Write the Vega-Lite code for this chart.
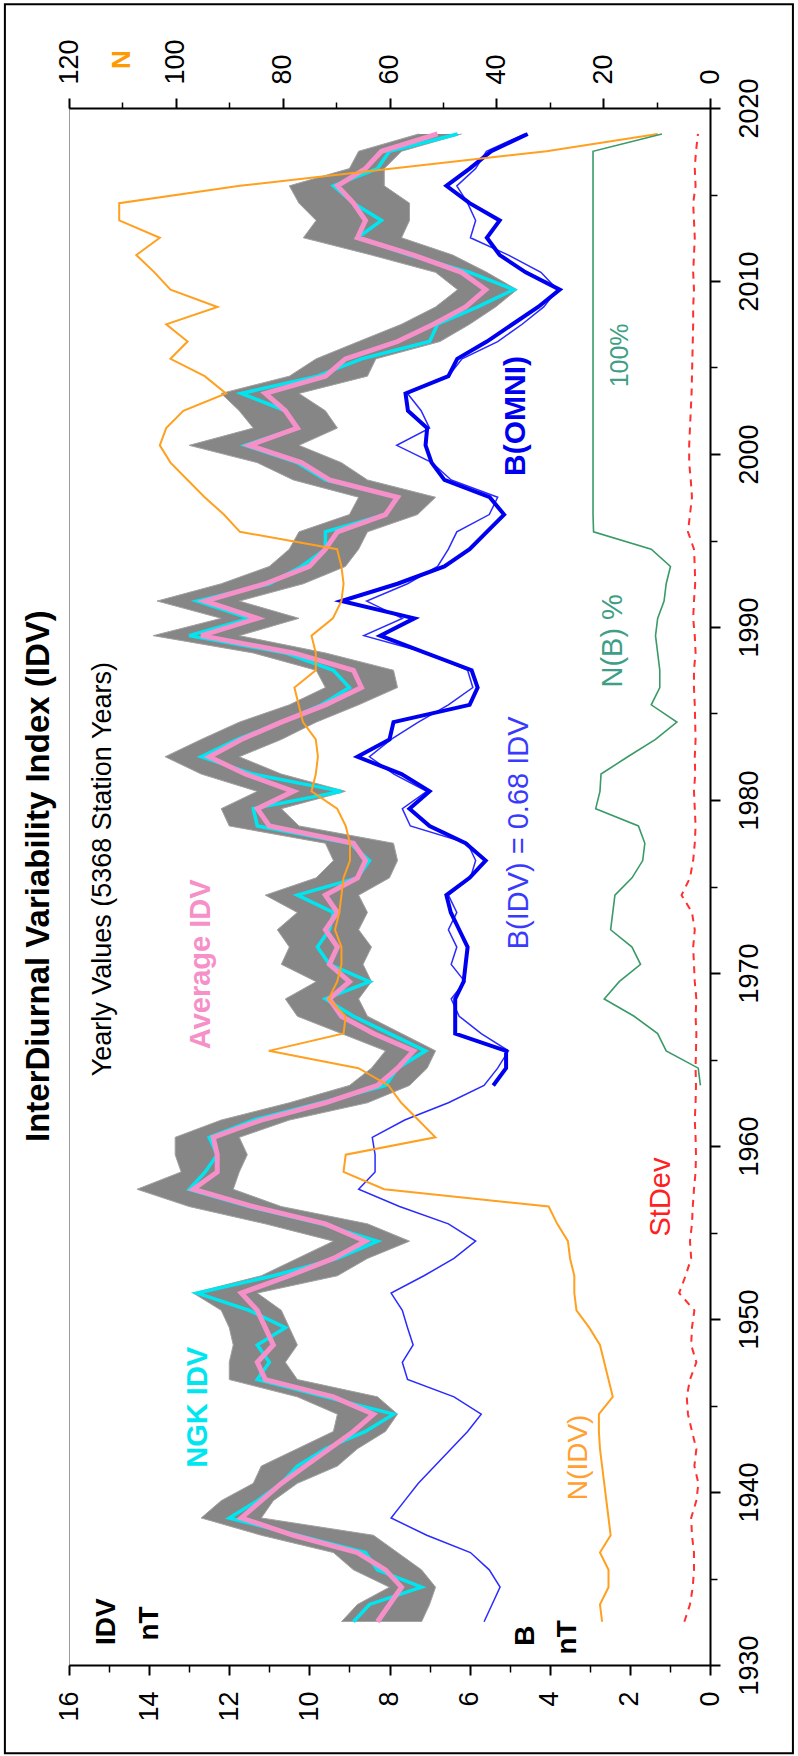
{
"$schema":"https://vega.github.io/schema/vega-lite/v6.json",
"width":641,"height":1557,"autosize":"none",
"padding":{"left":69,"top":108,"right":88,"bottom":91},
"background":"white",
"config":{"font":"Liberation Sans","view":{"stroke":"#9a9a9a","strokeWidth":1},
"axis":{"domainColor":"black","tickColor":"black","labelColor":"black","labelFont":"Liberation Sans","labelFontSize":27,"grid":false,"title":null,"labelFlush":false,"labelOverlap":false,"labelBound":false,"domainWidth":2,"tickWidth":2}},
"datasets":{
"idv":[
{"year":1932.5,"avg":8.3,"ngk":8.9,"lo":7.2,"hi":9.2,"bidv":5.64,"sd":0.64},
{"year":1933.5,"avg":8.0,"ngk":8.5,"lo":7.0,"hi":8.8,"bidv":5.44,"sd":0.50},
{"year":1934.5,"avg":7.7,"ngk":7.2,"lo":6.85,"hi":8.0,"bidv":5.24,"sd":0.43},
{"year":1935.5,"avg":8.1,"ngk":8.3,"lo":7.2,"hi":8.9,"bidv":5.51,"sd":0.40},
{"year":1936.5,"avg":8.8,"ngk":8.6,"lo":7.8,"hi":9.4,"bidv":5.98,"sd":0.40},
{"year":1937.5,"avg":10.4,"ngk":10.3,"lo":8.4,"hi":11.2,"bidv":7.07,"sd":0.45},
{"year":1938.5,"avg":11.7,"ngk":12.0,"lo":11.2,"hi":12.7,"bidv":7.96,"sd":0.47},
{"year":1939.5,"avg":11.2,"ngk":11.3,"lo":10.9,"hi":12.2,"bidv":7.62,"sd":0.34},
{"year":1940.5,"avg":10.7,"ngk":10.7,"lo":10.3,"hi":11.4,"bidv":7.28,"sd":0.29},
{"year":1941.5,"avg":10.1,"ngk":10.3,"lo":9.3,"hi":11.2,"bidv":6.87,"sd":0.39},
{"year":1942.5,"avg":9.5,"ngk":9.6,"lo":8.8,"hi":10.3,"bidv":6.46,"sd":0.34},
{"year":1943.5,"avg":8.9,"ngk":8.6,"lo":8.1,"hi":9.4,"bidv":6.05,"sd":0.45},
{"year":1944.5,"avg":8.4,"ngk":7.9,"lo":7.8,"hi":9.3,"bidv":5.71,"sd":0.55},
{"year":1945.5,"avg":9.4,"ngk":9.6,"lo":8.3,"hi":10.3,"bidv":6.39,"sd":0.58},
{"year":1946.5,"avg":11.1,"ngk":11.3,"lo":10.3,"hi":12.0,"bidv":7.55,"sd":0.50},
{"year":1947.5,"avg":11.3,"ngk":11.0,"lo":10.6,"hi":12.0,"bidv":7.68,"sd":0.34},
{"year":1948.5,"avg":10.9,"ngk":11.3,"lo":10.3,"hi":11.9,"bidv":7.41,"sd":0.47},
{"year":1949.5,"avg":11.1,"ngk":10.6,"lo":10.5,"hi":12.0,"bidv":7.55,"sd":0.45},
{"year":1950.5,"avg":11.3,"ngk":11.5,"lo":10.7,"hi":12.2,"bidv":7.68,"sd":0.39},
{"year":1951.5,"avg":11.7,"ngk":12.8,"lo":11.3,"hi":12.9,"bidv":7.96,"sd":0.77},
{"year":1952.5,"avg":10.5,"ngk":10.9,"lo":9.3,"hi":11.2,"bidv":7.14,"sd":0.61},
{"year":1953.5,"avg":9.4,"ngk":9.3,"lo":8.55,"hi":10.3,"bidv":6.39,"sd":0.47},
{"year":1954.5,"avg":8.6,"ngk":8.3,"lo":7.5,"hi":9.4,"bidv":5.85,"sd":0.50},
{"year":1955.5,"avg":9.6,"ngk":9.7,"lo":8.55,"hi":11.1,"bidv":6.53,"sd":0.45},
{"year":1956.5,"avg":11.4,"ngk":11.5,"lo":10.7,"hi":13.0,"bidv":7.75,"sd":0.43},
{"year":1957.5,"avg":12.9,"ngk":13.0,"lo":11.9,"hi":14.3,"bidv":8.77,"sd":0.40},
{"year":1958.5,"avg":12.3,"ngk":12.6,"lo":11.75,"hi":13.2,"bidv":8.36,"sd":0.36},
{"year":1959.5,"avg":12.3,"ngk":12.3,"lo":11.55,"hi":13.35,"bidv":8.36,"sd":0.35},
{"year":1960.5,"avg":12.4,"ngk":12.5,"lo":11.75,"hi":13.35,"bidv":8.43,"sd":0.36},
{"year":1961.5,"avg":11.2,"ngk":11.4,"lo":10.5,"hi":12.2,"bidv":7.62,"sd":0.38},
{"year":1962.5,"avg":9.6,"ngk":9.7,"lo":8.55,"hi":10.5,"bidv":6.53,"sd":0.36},
{"year":1963.5,"avg":8.3,"ngk":8.1,"lo":7.5,"hi":9.0,"bidv":5.64,"sd":0.35},
{"year":1964.5,"avg":7.8,"ngk":7.8,"lo":7.06,"hi":8.45,"bidv":5.30,"sd":0.36},
{"year":1965.5,"avg":7.4,"ngk":7.1,"lo":6.85,"hi":8.1,"bidv":5.03,"sd":0.35},
{"year":1966.5,"avg":8.4,"ngk":8.0,"lo":7.7,"hi":9.2,"bidv":5.71,"sd":0.34},
{"year":1967.5,"avg":9.2,"ngk":8.9,"lo":8.55,"hi":10.3,"bidv":6.26,"sd":0.36},
{"year":1968.5,"avg":9.5,"ngk":9.6,"lo":8.77,"hi":10.6,"bidv":6.46,"sd":0.34},
{"year":1969.5,"avg":9.0,"ngk":8.5,"lo":8.45,"hi":9.83,"bidv":6.12,"sd":0.38},
{"year":1970.5,"avg":9.5,"ngk":9.5,"lo":8.66,"hi":10.7,"bidv":6.46,"sd":0.40},
{"year":1971.5,"avg":9.3,"ngk":9.8,"lo":8.45,"hi":10.5,"bidv":6.32,"sd":0.42},
{"year":1972.5,"avg":9.6,"ngk":9.5,"lo":8.77,"hi":10.8,"bidv":6.53,"sd":0.38},
{"year":1973.5,"avg":9.3,"ngk":9.4,"lo":8.55,"hi":10.3,"bidv":6.32,"sd":0.45},
{"year":1974.5,"avg":9.6,"ngk":10.3,"lo":8.77,"hi":11.1,"bidv":6.53,"sd":0.71},
{"year":1975.5,"avg":8.8,"ngk":8.8,"lo":8.0,"hi":9.83,"bidv":5.98,"sd":0.50},
{"year":1976.5,"avg":8.6,"ngk":8.5,"lo":7.8,"hi":9.4,"bidv":5.85,"sd":0.42},
{"year":1977.5,"avg":8.9,"ngk":9.0,"lo":7.9,"hi":9.6,"bidv":6.05,"sd":0.38},
{"year":1978.5,"avg":11.0,"ngk":11.3,"lo":10.26,"hi":12.0,"bidv":7.48,"sd":0.36},
{"year":1979.5,"avg":11.3,"ngk":11.4,"lo":10.7,"hi":12.2,"bidv":7.68,"sd":0.38},
{"year":1980.5,"avg":10.4,"ngk":9.2,"lo":9.1,"hi":11.3,"bidv":7.07,"sd":0.40},
{"year":1981.5,"avg":11.6,"ngk":11.4,"lo":10.7,"hi":12.7,"bidv":7.89,"sd":0.37},
{"year":1982.5,"avg":12.5,"ngk":12.7,"lo":11.75,"hi":13.6,"bidv":8.50,"sd":0.38},
{"year":1983.5,"avg":11.7,"ngk":11.8,"lo":10.7,"hi":12.7,"bidv":7.96,"sd":0.36},
{"year":1984.5,"avg":10.7,"ngk":10.7,"lo":9.83,"hi":11.75,"bidv":7.28,"sd":0.37},
{"year":1985.5,"avg":9.6,"ngk":9.7,"lo":8.77,"hi":10.5,"bidv":6.53,"sd":0.38},
{"year":1986.5,"avg":8.7,"ngk":9.0,"lo":7.8,"hi":9.6,"bidv":5.92,"sd":0.40},
{"year":1987.5,"avg":8.9,"ngk":9.4,"lo":7.9,"hi":9.83,"bidv":6.05,"sd":0.40},
{"year":1988.5,"avg":10.4,"ngk":10.6,"lo":9.6,"hi":11.4,"bidv":7.07,"sd":0.36},
{"year":1989.5,"avg":12.7,"ngk":13.0,"lo":11.75,"hi":13.9,"bidv":8.64,"sd":0.38},
{"year":1990.5,"avg":11.3,"ngk":11.5,"lo":10.26,"hi":12.2,"bidv":7.68,"sd":0.42},
{"year":1991.5,"avg":12.6,"ngk":12.8,"lo":11.75,"hi":13.8,"bidv":8.57,"sd":0.40},
{"year":1992.5,"avg":11.1,"ngk":11.0,"lo":10.15,"hi":12.2,"bidv":7.55,"sd":0.37},
{"year":1993.5,"avg":10.0,"ngk":10.2,"lo":9.1,"hi":11.0,"bidv":6.80,"sd":0.38},
{"year":1994.5,"avg":9.6,"ngk":9.6,"lo":8.77,"hi":10.5,"bidv":6.53,"sd":0.40},
{"year":1995.5,"avg":9.3,"ngk":9.6,"lo":8.55,"hi":10.26,"bidv":6.32,"sd":0.55},
{"year":1996.5,"avg":8.1,"ngk":8.1,"lo":7.3,"hi":9.0,"bidv":5.51,"sd":0.50},
{"year":1997.5,"avg":7.8,"ngk":7.8,"lo":6.85,"hi":8.77,"bidv":5.30,"sd":0.45},
{"year":1998.5,"avg":9.5,"ngk":9.6,"lo":8.55,"hi":10.4,"bidv":6.46,"sd":0.48},
{"year":1999.5,"avg":10.2,"ngk":10.3,"lo":9.2,"hi":11.3,"bidv":6.94,"sd":0.52},
{"year":2000.5,"avg":11.5,"ngk":11.6,"lo":10.26,"hi":13.0,"bidv":7.82,"sd":0.52},
{"year":2001.5,"avg":10.3,"ngk":10.3,"lo":9.3,"hi":11.4,"bidv":7.00,"sd":0.50},
{"year":2002.5,"avg":10.6,"ngk":10.6,"lo":9.6,"hi":11.75,"bidv":7.21,"sd":0.48},
{"year":2003.5,"avg":11.1,"ngk":11.7,"lo":10.26,"hi":12.2,"bidv":7.55,"sd":0.46},
{"year":2004.5,"avg":9.6,"ngk":9.8,"lo":8.55,"hi":10.5,"bidv":6.53,"sd":0.45},
{"year":2005.5,"avg":9.1,"ngk":8.7,"lo":8.34,"hi":9.83,"bidv":6.19,"sd":0.44},
{"year":2006.5,"avg":7.8,"ngk":7.0,"lo":6.74,"hi":8.77,"bidv":5.30,"sd":0.43},
{"year":2007.5,"avg":6.9,"ngk":6.8,"lo":6.0,"hi":7.7,"bidv":4.69,"sd":0.42},
{"year":2008.5,"avg":6.1,"ngk":5.8,"lo":5.35,"hi":6.85,"bidv":4.15,"sd":0.42},
{"year":2009.5,"avg":5.6,"ngk":4.9,"lo":4.82,"hi":6.3,"bidv":3.81,"sd":0.40},
{"year":2010.5,"avg":6.2,"ngk":6.0,"lo":5.57,"hi":6.85,"bidv":4.22,"sd":0.42},
{"year":2011.5,"avg":7.4,"ngk":7.5,"lo":6.42,"hi":8.45,"bidv":5.03,"sd":0.40},
{"year":2012.5,"avg":8.8,"ngk":8.8,"lo":7.7,"hi":10.15,"bidv":5.98,"sd":0.38},
{"year":2013.5,"avg":8.6,"ngk":8.2,"lo":7.5,"hi":9.83,"bidv":5.85,"sd":0.40},
{"year":2014.5,"avg":8.9,"ngk":8.9,"lo":7.5,"hi":10.26,"bidv":6.05,"sd":0.42},
{"year":2015.5,"avg":9.3,"ngk":9.4,"lo":8.13,"hi":10.5,"bidv":6.32,"sd":0.36},
{"year":2016.5,"avg":8.6,"ngk":8.3,"lo":8.13,"hi":9.0,"bidv":5.85,"sd":0.38},
{"year":2017.5,"avg":8.2,"ngk":8.0,"lo":7.7,"hi":8.77,"bidv":5.58,"sd":0.35},
{"year":2018.5,"avg":6.8,"ngk":6.3,"lo":6.2,"hi":7.27,"bidv":4.62,"sd":0.30}
],
"omni":[
{"year":1963.5,"b":5.41},{"year":1964.5,"b":5.09},{"year":1965.5,"b":5.09},{"year":1966.5,"b":6.36},{"year":1967.5,"b":6.36},{"year":1968.5,"b":6.36},{"year":1969.5,"b":6.15},{"year":1970.5,"b":6.1},{"year":1971.5,"b":6.05},{"year":1972.5,"b":6.26},{"year":1973.5,"b":6.47},{"year":1974.5,"b":6.58},{"year":1975.5,"b":6.0},{"year":1976.5,"b":5.6},{"year":1977.5,"b":6.1},{"year":1978.5,"b":7.0},{"year":1979.5,"b":7.5},{"year":1980.5,"b":7.0},{"year":1981.5,"b":7.7},{"year":1982.5,"b":8.8},{"year":1983.5,"b":8.0},{"year":1984.5,"b":7.9},{"year":1985.5,"b":6.0},{"year":1986.5,"b":5.8},{"year":1987.5,"b":5.95},{"year":1988.5,"b":7.1},{"year":1989.5,"b":8.23},{"year":1990.5,"b":7.38},{"year":1991.5,"b":9.2},{"year":1992.5,"b":7.8},{"year":1993.5,"b":6.63},{"year":1994.5,"b":6.0},{"year":1995.5,"b":5.57},{"year":1996.5,"b":5.14},{"year":1997.5,"b":5.5},{"year":1998.5,"b":6.63},{"year":1999.5,"b":6.95},{"year":2000.5,"b":7.1},{"year":2001.5,"b":7.06},{"year":2002.5,"b":7.54},{"year":2003.5,"b":7.6},{"year":2004.5,"b":6.53},{"year":2005.5,"b":6.31},{"year":2006.5,"b":5.57},{"year":2007.5,"b":4.93},{"year":2008.5,"b":4.29},{"year":2009.5,"b":3.75},{"year":2010.5,"b":4.6},{"year":2011.5,"b":5.25},{"year":2012.5,"b":5.57},{"year":2013.5,"b":5.25},{"year":2014.5,"b":6.0},{"year":2015.5,"b":6.58},{"year":2016.5,"b":6.0},{"year":2017.5,"b":5.46},{"year":2018.5,"b":4.55}
],
"nidv":[
{"year":1932.5,"n":20.2},{"year":1933.5,"n":20.6},{"year":1934.5,"n":19.0},{"year":1935.5,"n":19.0},{"year":1936.5,"n":20.6},{"year":1937.5,"n":18.6},{"year":1938.5,"n":19.0},{"year":1939.5,"n":19.4},{"year":1940.5,"n":19.8},{"year":1941.5,"n":20.2},{"year":1942.5,"n":20.6},{"year":1943.5,"n":20.8},{"year":1944.5,"n":20.8},{"year":1945.5,"n":18.2},{"year":1946.5,"n":19.0},{"year":1947.5,"n":19.8},{"year":1948.5,"n":20.6},{"year":1949.5,"n":22.6},{"year":1950.5,"n":25.0},{"year":1951.5,"n":25.4},{"year":1952.5,"n":25.4},{"year":1953.5,"n":26.2},{"year":1954.5,"n":26.6},{"year":1955.5,"n":28.6},{"year":1956.5,"n":30.2},{"year":1957.5,"n":61.0},{"year":1958.5,"n":68.6},{"year":1959.5,"n":68.2},{"year":1960.5,"n":51.4},{"year":1961.5,"n":54.6},{"year":1962.5,"n":57.8},{"year":1963.5,"n":60.2},{"year":1964.5,"n":65.8},{"year":1965.5,"n":82.6},{"year":1966.5,"n":68.6},{"year":1967.5,"n":68.2},{"year":1968.5,"n":71.4},{"year":1969.5,"n":69.8},{"year":1970.5,"n":69.0},{"year":1971.5,"n":69.0},{"year":1972.5,"n":70.2},{"year":1973.5,"n":69.4},{"year":1974.5,"n":69.0},{"year":1975.5,"n":68.6},{"year":1976.5,"n":67.4},{"year":1977.5,"n":67.4},{"year":1978.5,"n":68.2},{"year":1979.5,"n":69.8},{"year":1980.5,"n":74.6},{"year":1981.5,"n":73.8},{"year":1982.5,"n":73.4},{"year":1983.5,"n":73.8},{"year":1984.5,"n":76.2},{"year":1985.5,"n":77.0},{"year":1986.5,"n":77.8},{"year":1987.5,"n":73.8},{"year":1988.5,"n":73.8},{"year":1989.5,"n":74.6},{"year":1990.5,"n":70.6},{"year":1991.5,"n":69.0},{"year":1992.5,"n":68.6},{"year":1993.5,"n":69.0},{"year":1994.5,"n":69.8},{"year":1995.5,"n":88.0},{"year":1996.5,"n":91.0},{"year":1997.5,"n":94.6},{"year":1998.5,"n":97.8},{"year":1999.5,"n":101.0},{"year":2000.5,"n":103.0},{"year":2001.5,"n":101.8},{"year":2002.5,"n":98.6},{"year":2003.5,"n":90.6},{"year":2004.5,"n":94.6},{"year":2005.5,"n":101.0},{"year":2006.5,"n":97.8},{"year":2007.5,"n":101.8},{"year":2008.5,"n":92.2},{"year":2009.5,"n":101.0},{"year":2010.5,"n":104.0},{"year":2011.5,"n":107.4},{"year":2012.5,"n":103.0},{"year":2013.5,"n":110.6},{"year":2014.5,"n":110.6},{"year":2015.5,"n":88.0},{"year":2016.5,"n":59.4},{"year":2017.5,"n":30.6},{"year":2018.5,"n":9.8}
],
"nb":[
{"year":1963.5,"p":1.8},{"year":1964.5,"p":2.2},{"year":1965.5,"p":8.2},{"year":1966.5,"p":9.8},{"year":1967.5,"p":14.2},{"year":1968.5,"p":19.8},{"year":1969.5,"p":17.0},{"year":1970.5,"p":13.0},{"year":1971.5,"p":14.6},{"year":1972.5,"p":18.6},{"year":1973.5,"p":18.2},{"year":1974.5,"p":17.8},{"year":1975.5,"p":14.6},{"year":1976.5,"p":12.6},{"year":1977.5,"p":12.2},{"year":1978.5,"p":13.4},{"year":1979.5,"p":21.4},{"year":1980.5,"p":20.6},{"year":1981.5,"p":20.4},{"year":1982.5,"p":15.4},{"year":1983.5,"p":10.2},{"year":1984.5,"p":6.2},{"year":1985.5,"p":11.0},{"year":1986.5,"p":9.4},{"year":1987.5,"p":9.4},{"year":1988.5,"p":9.8},{"year":1989.5,"p":10.2},{"year":1990.5,"p":9.8},{"year":1991.5,"p":8.6},{"year":1992.5,"p":8.2},{"year":1993.5,"p":7.4},{"year":1994.5,"p":11.0},{"year":1995.5,"p":21.8},{"year":1996.5,"p":21.9},{"year":1997.5,"p":21.9},{"year":1998.5,"p":21.9},{"year":1999.5,"p":21.9},{"year":2000.5,"p":21.9},{"year":2001.5,"p":21.9},{"year":2002.5,"p":21.9},{"year":2003.5,"p":21.9},{"year":2004.5,"p":21.9},{"year":2005.5,"p":21.9},{"year":2006.5,"p":21.9},{"year":2007.5,"p":21.9},{"year":2008.5,"p":21.9},{"year":2009.5,"p":21.9},{"year":2010.5,"p":21.9},{"year":2011.5,"p":21.9},{"year":2012.5,"p":21.9},{"year":2013.5,"p":21.9},{"year":2014.5,"p":21.9},{"year":2015.5,"p":21.9},{"year":2016.5,"p":21.9},{"year":2017.5,"p":21.9},{"year":2018.5,"p":9.0}
]
},
"layer":[
{
"resolve":{"axis":{"x":"independent","y":"independent"}},
"layer":[
{"data":{"values":[{}]},"mark":{"type":"rect","filled":false,"color":"black","strokeWidth":2},
 "encoding":{"x":{"datum":17.6,"type":"quantitative","scale":{"domain":[0,16],"reverse":true,"nice":false,"zero":false},"axis":null},"x2":{"datum":-2.07},
 "y":{"datum":2026.0,"type":"quantitative","scale":{"domain":[1930,2020],"nice":false,"zero":false},"axis":null},"y2":{"datum":1924.9}}},
{"data":{"name":"idv"},"mark":{"type":"area","orient":"horizontal","color":"#7f7f7f","opacity":0.95},
 "encoding":{"x":{"field":"lo","type":"quantitative","scale":{"domain":[0,16],"reverse":true,"nice":false,"zero":false},
   "axis":{"orient":"bottom","values":[0,2,4,6,8,10,12,14,16],"labelAngle":270,"labelAlign":"right","labelBaseline":"middle","tickSize":10,"labelPadding":16}},
  "x2":{"field":"hi"},
  "y":{"field":"year","type":"quantitative","scale":{"domain":[1930,2020],"nice":false,"zero":false},
   "axis":{"orient":"right","values":[1930,1940,1950,1960,1970,1980,1990,2000,2010,2020],"format":"d","labelAngle":270,"labelAlign":"center","labelBaseline":"top","tickSize":10,"labelPadding":16}}}},
{"data":{"name":"idv"},"mark":{"type":"line","color":"#a0a0a0","strokeWidth":1},
 "encoding":{"x":{"field":"lo","type":"quantitative","scale":{"domain":[0,16],"reverse":true,"nice":false,"zero":false},"axis":null},
  "y":{"field":"year","type":"quantitative","scale":{"domain":[1930,2020],"nice":false,"zero":false},"axis":null},"order":{"field":"year"}}},
{"data":{"name":"idv"},"mark":{"type":"line","color":"#a0a0a0","strokeWidth":1},
 "encoding":{"x":{"field":"hi","type":"quantitative","scale":{"domain":[0,16],"reverse":true,"nice":false,"zero":false},"axis":null},
  "y":{"field":"year","type":"quantitative","scale":{"domain":[1930,2020],"nice":false,"zero":false},"axis":null},"order":{"field":"year"}}},
{"data":{"name":"idv"},"mark":{"type":"line","color":"#00e6f0","strokeWidth":3.5},
 "encoding":{"x":{"field":"ngk","type":"quantitative","scale":{"domain":[0,16],"reverse":true,"nice":false,"zero":false},"axis":null},
  "y":{"field":"year","type":"quantitative","scale":{"domain":[1930,2020],"nice":false,"zero":false},"axis":null},"order":{"field":"year"}}},
{"data":{"name":"idv"},"mark":{"type":"line","color":"#f590c8","strokeWidth":5},
 "encoding":{"x":{"field":"avg","type":"quantitative","scale":{"domain":[0,16],"reverse":true,"nice":false,"zero":false},
   "axis":{"orient":"bottom","values":[1,3,5,7,9,11,13,15],"labels":false,"domain":false,"tickSize":7,"tickWidth":1.5}},
  "y":{"field":"year","type":"quantitative","scale":{"domain":[1930,2020],"nice":false,"zero":false},
   "axis":{"orient":"right","values":[1935,1945,1955,1965,1975,1985,1995,2005,2015],"labels":false,"domain":false,"tickSize":7,"tickWidth":1.5}},"order":{"field":"year"}}},
{"data":{"name":"idv"},"mark":{"type":"line","color":"#2a2aff","strokeWidth":1.5},
 "encoding":{"x":{"field":"bidv","type":"quantitative","scale":{"domain":[0,16],"reverse":true,"nice":false,"zero":false},"axis":null},
  "y":{"field":"year","type":"quantitative","scale":{"domain":[1930,2020],"nice":false,"zero":false},"axis":null},"order":{"field":"year"}}},
{"data":{"name":"omni"},"mark":{"type":"line","color":"#0000f0","strokeWidth":4},
 "encoding":{"x":{"field":"b","type":"quantitative","scale":{"domain":[0,16],"reverse":true,"nice":false,"zero":false},"axis":null},
  "y":{"field":"year","type":"quantitative","scale":{"domain":[1930,2020],"nice":false,"zero":false},"axis":null},"order":{"field":"year"}}},
{"data":{"name":"idv"},"mark":{"type":"line","color":"#ff3030","strokeWidth":2,"strokeDash":[7,6]},
 "encoding":{"x":{"field":"sd","type":"quantitative","scale":{"domain":[0,16],"reverse":true,"nice":false,"zero":false},"axis":null},
  "y":{"field":"year","type":"quantitative","scale":{"domain":[1930,2020],"nice":false,"zero":false},"axis":null},"order":{"field":"year"}}},
{"data":{"values":[{}]},"mark":{"type":"text","text":"InterDiurnal Variability Index (IDV)","angle":270,"fontSize":33,"fontWeight":"bold","color":"black","align":"center","baseline":"middle"},
 "encoding":{"x":{"datum":16.75,"type":"quantitative","scale":{"domain":[0,16],"reverse":true,"nice":false,"zero":false},"axis":null},"y":{"datum":1975.6,"type":"quantitative","scale":{"domain":[1930,2020],"nice":false,"zero":false},"axis":null}}},
{"data":{"values":[{}]},"mark":{"type":"text","text":"Yearly Values (5368 Station Years)","angle":270,"fontSize":27,"color":"black","align":"center","baseline":"middle"},
 "encoding":{"x":{"datum":15.15,"type":"quantitative","scale":{"domain":[0,16],"reverse":true,"nice":false,"zero":false},"axis":null},"y":{"datum":1976,"type":"quantitative","scale":{"domain":[1930,2020],"nice":false,"zero":false},"axis":null}}},
{"data":{"values":[{}]},"mark":{"type":"text","text":"Average IDV","angle":270,"fontSize":29,"fontWeight":"bold","color":"#f590c8","align":"center","baseline":"middle"},
 "encoding":{"x":{"datum":12.7,"type":"quantitative","scale":{"domain":[0,16],"reverse":true,"nice":false,"zero":false},"axis":null},"y":{"datum":1970.5,"type":"quantitative","scale":{"domain":[1930,2020],"nice":false,"zero":false},"axis":null}}},
{"data":{"values":[{}]},"mark":{"type":"text","text":"NGK IDV","angle":270,"fontSize":29,"fontWeight":"bold","color":"#00e6f0","align":"center","baseline":"middle"},
 "encoding":{"x":{"datum":12.78,"type":"quantitative","scale":{"domain":[0,16],"reverse":true,"nice":false,"zero":false},"axis":null},"y":{"datum":1944.9,"type":"quantitative","scale":{"domain":[1930,2020],"nice":false,"zero":false},"axis":null}}},
{"data":{"values":[{}]},"mark":{"type":"text","text":"N(IDV)","angle":270,"fontSize":28,"color":"#ffa030","align":"center","baseline":"middle"},
 "encoding":{"x":{"datum":3.27,"type":"quantitative","scale":{"domain":[0,16],"reverse":true,"nice":false,"zero":false},"axis":null},"y":{"datum":1942.0,"type":"quantitative","scale":{"domain":[1930,2020],"nice":false,"zero":false},"axis":null}}},
{"data":{"values":[{}]},"mark":{"type":"text","text":"B(IDV) = 0.68 IDV","angle":270,"fontSize":29,"color":"#3a3aff","align":"center","baseline":"middle"},
 "encoding":{"x":{"datum":4.77,"type":"quantitative","scale":{"domain":[0,16],"reverse":true,"nice":false,"zero":false},"axis":null},"y":{"datum":1978.1,"type":"quantitative","scale":{"domain":[1930,2020],"nice":false,"zero":false},"axis":null}}},
{"data":{"values":[{}]},"mark":{"type":"text","text":"B(OMNI)","angle":270,"fontSize":30,"fontWeight":"bold","color":"#0000f0","align":"center","baseline":"middle"},
 "encoding":{"x":{"datum":4.84,"type":"quantitative","scale":{"domain":[0,16],"reverse":true,"nice":false,"zero":false},"axis":null},"y":{"datum":2002.2,"type":"quantitative","scale":{"domain":[1930,2020],"nice":false,"zero":false},"axis":null}}},
{"data":{"values":[{}]},"mark":{"type":"text","text":"N(B) %","angle":270,"fontSize":29,"color":"#3f9f86","align":"center","baseline":"middle"},
 "encoding":{"x":{"datum":2.42,"type":"quantitative","scale":{"domain":[0,16],"reverse":true,"nice":false,"zero":false},"axis":null},"y":{"datum":1989.2,"type":"quantitative","scale":{"domain":[1930,2020],"nice":false,"zero":false},"axis":null}}},
{"data":{"values":[{}]},"mark":{"type":"text","text":"100%","angle":270,"fontSize":25,"color":"#3f9f86","align":"center","baseline":"middle"},
 "encoding":{"x":{"datum":2.25,"type":"quantitative","scale":{"domain":[0,16],"reverse":true,"nice":false,"zero":false},"axis":null},"y":{"datum":2005.7,"type":"quantitative","scale":{"domain":[1930,2020],"nice":false,"zero":false},"axis":null}}},
{"data":{"values":[{}]},"mark":{"type":"text","text":"StDev","angle":270,"fontSize":29,"color":"#ff2020","align":"center","baseline":"middle"},
 "encoding":{"x":{"datum":1.22,"type":"quantitative","scale":{"domain":[0,16],"reverse":true,"nice":false,"zero":false},"axis":null},"y":{"datum":1957.05,"type":"quantitative","scale":{"domain":[1930,2020],"nice":false,"zero":false},"axis":null}}},
{"data":{"values":[{}]},"mark":{"type":"text","text":"IDV","angle":270,"fontSize":28,"fontWeight":"bold","color":"black","align":"center","baseline":"middle"},
 "encoding":{"x":{"datum":15.05,"type":"quantitative","scale":{"domain":[0,16],"reverse":true,"nice":false,"zero":false},"axis":null},"y":{"datum":1932.5,"type":"quantitative","scale":{"domain":[1930,2020],"nice":false,"zero":false},"axis":null}}},
{"data":{"values":[{}]},"mark":{"type":"text","text":"nT","angle":270,"fontSize":28,"fontWeight":"bold","color":"black","align":"center","baseline":"middle"},
 "encoding":{"x":{"datum":13.98,"type":"quantitative","scale":{"domain":[0,16],"reverse":true,"nice":false,"zero":false},"axis":null},"y":{"datum":1932.4,"type":"quantitative","scale":{"domain":[1930,2020],"nice":false,"zero":false},"axis":null}}},
{"data":{"values":[{}]},"mark":{"type":"text","text":"B","angle":270,"fontSize":28,"fontWeight":"bold","color":"black","align":"center","baseline":"middle"},
 "encoding":{"x":{"datum":4.59,"type":"quantitative","scale":{"domain":[0,16],"reverse":true,"nice":false,"zero":false},"axis":null},"y":{"datum":1931.7,"type":"quantitative","scale":{"domain":[1930,2020],"nice":false,"zero":false},"axis":null}}},
{"data":{"values":[{}]},"mark":{"type":"text","text":"nT","angle":270,"fontSize":28,"fontWeight":"bold","color":"black","align":"center","baseline":"middle"},
 "encoding":{"x":{"datum":3.54,"type":"quantitative","scale":{"domain":[0,16],"reverse":true,"nice":false,"zero":false},"axis":null},"y":{"datum":1931.6,"type":"quantitative","scale":{"domain":[1930,2020],"nice":false,"zero":false},"axis":null}}}
]
},
{
"resolve":{"axis":{"x":"independent","y":"independent"}},
"layer":[
{"data":{"name":"nidv"},"mark":{"type":"line","color":"#ffa020","strokeWidth":2},
 "encoding":{"x":{"field":"n","type":"quantitative","scale":{"domain":[0,120],"reverse":true,"nice":false,"zero":false},
   "axis":{"orient":"top","values":[0,20,40,60,80,100,120],"labelAngle":270,"labelAlign":"left","labelBaseline":"middle","tickSize":10,"labelPadding":14}},
  "y":{"field":"year","type":"quantitative","scale":{"domain":[1930,2020],"nice":false,"zero":false},"axis":null},"order":{"field":"year"}}},
{"data":{"name":"nb"},"mark":{"type":"line","color":"#3a9a68","strokeWidth":1.6},
 "encoding":{"x":{"field":"p","type":"quantitative","scale":{"domain":[0,120],"reverse":true,"nice":false,"zero":false},
   "axis":{"orient":"top","values":[10,30,50,70,90,110],"labels":false,"domain":false,"tickSize":6,"tickWidth":1.5}},
  "y":{"field":"year","type":"quantitative","scale":{"domain":[1930,2020],"nice":false,"zero":false},"axis":null},"order":{"field":"year"}}},
{"data":{"values":[{}]},"mark":{"type":"text","text":"N","angle":270,"fontSize":26,"fontWeight":"bold","color":"#ff9900","align":"center","baseline":"middle"},
 "encoding":{"x":{"datum":110,"type":"quantitative","scale":{"domain":[0,120],"reverse":true,"nice":false,"zero":false},"axis":null},"y":{"datum":2022.8,"type":"quantitative","scale":{"domain":[1930,2020],"nice":false,"zero":false},"axis":null}}}
]
}
],
"resolve":{"scale":{"x":"independent"},"axis":{"x":"independent","y":"independent"}}
}
